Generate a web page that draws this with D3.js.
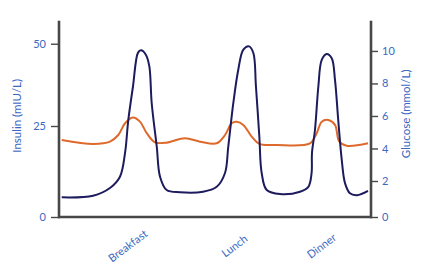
<!DOCTYPE html>
<html>
<head>
<meta charset="utf-8">
<script src="https://cdn.jsdelivr.net/npm/d3@7"></script>
<style>
  html, body { margin: 0; padding: 0; background: #fff; }
  svg { display: block; }
  text { font-family: Lato, "Open Sans", sans-serif; }
</style>
</head>
<body>
<div id="chart"></div>
<script>
// ---- data ----
const meals = ["Breakfast", "Lunch", "Dinner"];
const mealTimes = [5.3, 13.5, 20.2];   // hours on the x axis

const insulinTimes = [0.21, 2.62, 3.92, 4.69, 5.08, 5.33, 5.69, 6.08, 6.31, 6.69, 6.95, 7.13, 7.52, 7.77, 8.28, 9.31,
  11.08, 12.13, 12.77, 13.02, 13.41, 13.79, 14.18, 14.62, 14.95, 15.15, 15.41, 15.59, 15.98, 17.0,
  18.54, 19.18, 19.43, 19.46, 19.69, 19.95, 20.21, 20.59, 20.98, 21.23, 21.48, 21.75, 22.0, 22.38, 22.92, 23.77];
const insulinValues = [5.4, 5.85, 7.97, 11.07, 17.6, 26.8, 37.0, 47.3, 48.0, 46.6, 43.1, 32.0, 19.3, 11.1, 7.4, 6.8,
  6.95, 8.3, 12.1, 19.3, 32.0, 42.1, 48.2, 49.2, 47.2, 37.0, 22.1, 12.1, 7.4, 6.3,
  6.95, 8.3, 12.1, 17.6, 23.9, 37.0, 45.1, 46.9, 45.6, 39.0, 26.8, 15.7, 9.3, 6.5, 6.0, 7.2];

const glucoseTimes = [0.21, 2.64, 3.92, 4.56, 5.08, 5.67, 6.23, 6.75, 7.38, 8.28, 9.69, 10.85, 12.13, 12.77, 13.28,
  13.67, 14.18, 14.82, 15.41, 16.75, 19.31, 19.82, 20.21, 20.72, 21.23, 21.56, 22.13, 23.77];
const glucoseValues = [4.52, 4.28, 4.42, 4.83, 5.55, 5.90, 5.65, 4.94, 4.38, 4.36, 4.63, 4.42, 4.32, 4.83, 5.55,
  5.65, 5.45, 4.73, 4.28, 4.22, 4.32, 4.94, 5.65, 5.75, 5.45, 4.42, 4.17, 4.32];

const insulinTicks = [0, 25, 50];
const glucoseTicks = [0, 2, 4, 6, 8, 10];
const insulinTitle = "Insulin (mIU/L)";
const glucoseTitle = "Glucose (mmol/L)";

// ---- layout ----
const W = 423, H = 274;
const mLeft = 59, mRight = 371, mTop = 20.7, mBottom = 217;
const textBlue = "#3b68c2", axisGrey = "#474747";

const svg = d3.select("#chart").append("svg").attr("width", W).attr("height", H);

const x = d3.scaleLinear().domain([0, 24]).range([mLeft, mRight]);
const yIns = d3.scaleLinear().domain([0, 25, 57]).range([mBottom, 126, mTop]);
const yGlu = d3.scaleLinear().domain([0, 2, 11.86]).range([mBottom, 181, mTop]);

// axis lines
const axisG = svg.append("g").attr("stroke", axisGrey).attr("stroke-width", 2.6).attr("fill", "none");
axisG.append("line").attr("x1", x(0)).attr("x2", x(0)).attr("y1", yIns(57)).attr("y2", yIns(0) + 1.3);
axisG.append("line").attr("x1", x(24)).attr("x2", x(24)).attr("y1", yGlu(11.86)).attr("y2", yGlu(0) + 1.3);
axisG.append("line").attr("x1", x(0)).attr("x2", x(24)).attr("y1", yIns(0)).attr("y2", yIns(0));

function styleAxis(g) {
  g.select(".domain").remove();
  g.selectAll(".tick line").attr("stroke", axisGrey).attr("stroke-width", 1.4);
  g.selectAll(".tick text").attr("fill", textBlue).style("font-size", "11px")
    .style("font-family", "Lato, 'Open Sans', sans-serif");
}

svg.append("g").attr("transform", `translate(${x(0)},0)`)
  .call(d3.axisLeft(yIns).tickValues(insulinTicks).tickSize(8).tickPadding(5))
  .call(styleAxis);
svg.append("g").attr("transform", `translate(${x(24)},0)`)
  .call(d3.axisRight(yGlu).tickValues(glucoseTicks).tickSize(7).tickPadding(4))
  .call(styleAxis);

// axis titles
svg.append("text").attr("transform", `translate(21,${(yIns(0) + yIns(57)) / 2 - 3}) rotate(-90)`)
  .attr("text-anchor", "middle").attr("fill", textBlue).style("font-size", "11.5px").text(insulinTitle);
svg.append("text").attr("transform", `translate(410,${(yGlu(0) + yGlu(11.86)) / 2 - 5}) rotate(-90)`)
  .attr("text-anchor", "middle").attr("fill", textBlue).style("font-size", "11.5px").text(glucoseTitle);

// meal labels
svg.append("g").selectAll("text").data(meals).join("text")
  .attr("transform", (d, i) => `translate(${x(mealTimes[i])},${mBottom + 29}) rotate(-37)`)
  .attr("text-anchor", "middle").attr("dy", "0.35em")
  .attr("fill", textBlue).style("font-size", "11px").text(d => d);

// lines
const insulin = insulinTimes.map((t, i) => [t, insulinValues[i]]);
const glucose = glucoseTimes.map((t, i) => [t, glucoseValues[i]]);

svg.append("path").datum(glucose)
  .attr("fill", "none").attr("stroke", "#dd6a2c").attr("stroke-width", 2)
  .attr("d", d3.line().x(d => x(d[0])).y(d => yGlu(d[1])).curve(d3.curveCatmullRom.alpha(0.5)));

svg.append("path").datum(insulin)
  .attr("fill", "none").attr("stroke", "#1d1b5e").attr("stroke-width", 2)
  .attr("d", d3.line().x(d => x(d[0])).y(d => yIns(d[1])).curve(d3.curveCatmullRom.alpha(0.5)));
</script>
</body>
</html>
